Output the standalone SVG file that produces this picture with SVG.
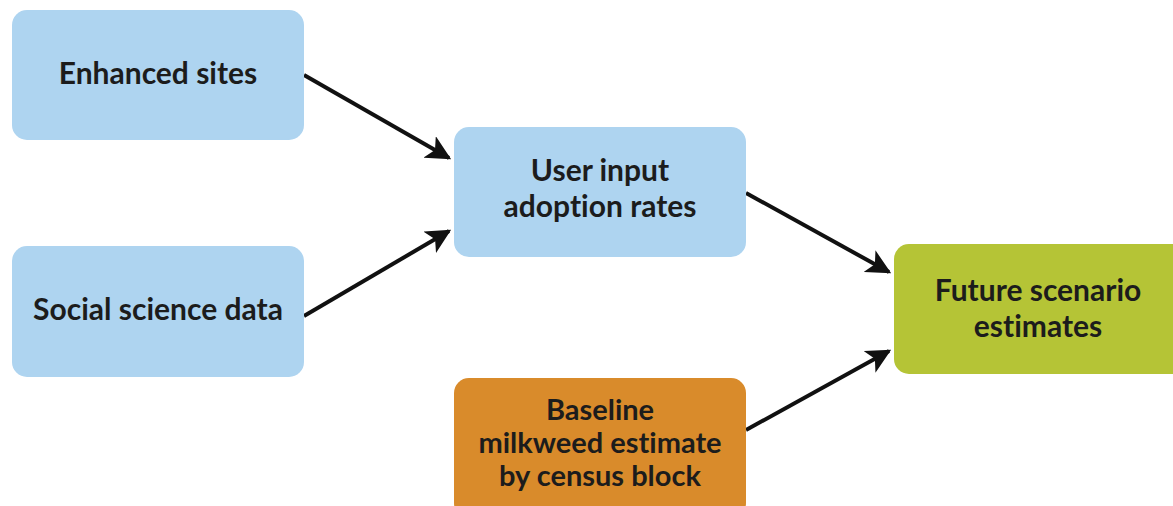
<svg xmlns="http://www.w3.org/2000/svg" width="1173" height="506" viewBox="0 0 1173 506">
  <defs>
    <marker id="arrow" viewBox="0 0 10 10" refX="9" refY="5" markerWidth="6.2" markerHeight="6.2" markerUnits="strokeWidth" orient="auto">
      <path d="M0,0 L10,5 L0,10 L2.5,5 Z" fill="#111"/>
    </marker>
    <style>
      .box { stroke: none; }
      .blue { fill: #aed4f0; }
      .orange { fill: #d98b2b; }
      .green { fill: #b5c436; }
      .label { font-family: Lato, "Liberation Sans", sans-serif; font-size: 30px; font-weight: bold; fill: #1c1c1c; text-anchor: middle; font-variant-ligatures: none; }
      .tight { font-size: 29px; }
      .conn { stroke: #111; stroke-width: 4; fill: none; marker-end: url(#arrow); }
    </style>
  </defs>
  <rect width="1173" height="506" fill="#ffffff"/>

  <g id="connectors">
    <line class="conn" x1="304" y1="75" x2="449" y2="158"/>
    <line class="conn" x1="304" y1="316" x2="449" y2="231"/>
    <line class="conn" x1="746" y1="193" x2="889" y2="272"/>
    <line class="conn" x1="746" y1="430" x2="889" y2="351"/>
  </g>

  <g id="enhanced-sites">
    <rect class="box blue" x="12" y="10" width="292" height="130" rx="15"/>
    <text class="label" x="158" y="84">Enhanced sites</text>
  </g>

  <g id="social-science-data">
    <rect class="box blue" x="12" y="246" width="292" height="131" rx="15"/>
    <text class="label" x="158" y="320">Social science data</text>
  </g>

  <g id="user-input">
    <rect class="box blue" x="454" y="127" width="292" height="130" rx="15"/>
    <text class="label" x="600" y="181">User input</text>
    <text class="label" x="600" y="217">adoption rates</text>
  </g>

  <g id="baseline-estimate">
    <rect class="box orange" x="454" y="378" width="292" height="140" rx="15"/>
    <text class="label tight" x="600" y="420">Baseline</text>
    <text class="label tight" x="600" y="453">milkweed estimate</text>
    <text class="label tight" x="600" y="486">by census block</text>
  </g>

  <g id="future-scenario">
    <rect class="box green" x="894" y="244" width="292" height="130" rx="15"/>
    <text class="label" x="1038" y="301">Future scenario</text>
    <text class="label" x="1038" y="337">estimates</text>
  </g>
</svg>
